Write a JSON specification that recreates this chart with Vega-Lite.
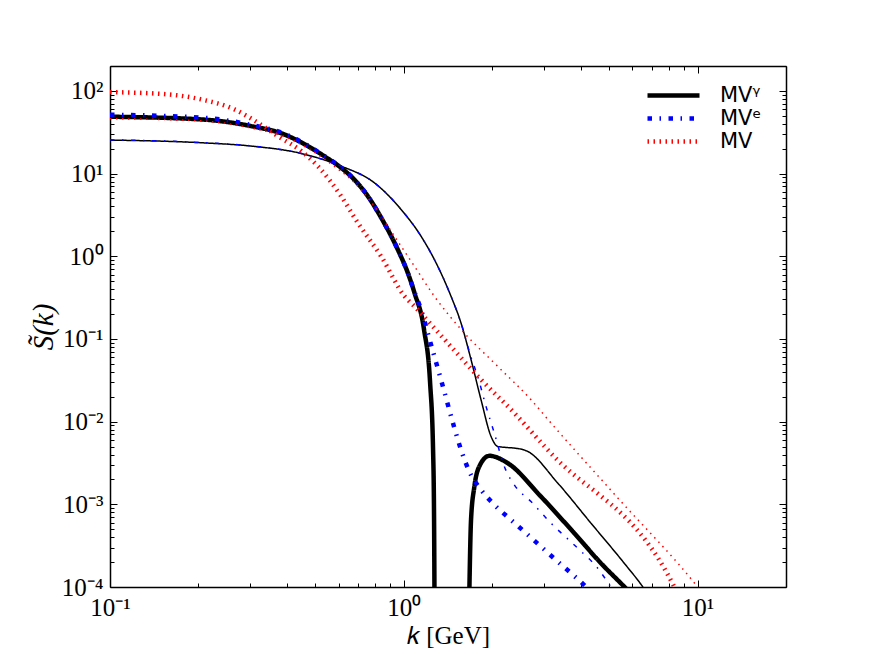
{
  "$schema": "https://vega.github.io/schema/vega-lite/v6.json",
  "width": 676,
  "height": 521,
  "autosize": {"type": "none"},
  "padding": {"left": 110, "top": 66, "right": 86, "bottom": 67},
  "background": "white",
  "config": {
    "view": {"stroke": null},
    "axis": {
      "grid": false, "domainColor": "black", "domainWidth": 1.5,
      "tickColor": "black", "tickWidth": 1, "labelColor": "black", "titleColor": "black",
      "labelFont": "Liberation Serif", "titleFont": "Liberation Serif",
      "labelFontSize": 25, "titleFontSize": 25, "titleFontWeight": "normal",
      "labelFlush": false, "labelOverlap": false
    }
  },
  "data": {"values": [
    {"s": "MVᵞ", "w": "thick", "c": "g1", "k": 0.1, "S": 48.7},
    {"s": "MVᵞ", "w": "thick", "c": "g1", "k": 0.2044, "S": 45.2},
    {"s": "MVᵞ", "w": "thick", "c": "g1", "k": 0.3024, "S": 37.5},
    {"s": "MVᵞ", "w": "thick", "c": "g1", "k": 0.3926, "S": 29.7},
    {"s": "MVᵞ", "w": "thick", "c": "g1", "k": 0.4716, "S": 21.5},
    {"s": "MVᵞ", "w": "thick", "c": "g1", "k": 0.544, "S": 15.7},
    {"s": "MVᵞ", "w": "thick", "c": "g1", "k": 0.612, "S": 11.75},
    {"s": "MVᵞ", "w": "thick", "c": "g1", "k": 0.678, "S": 8.48},
    {"s": "MVᵞ", "w": "thick", "c": "g1", "k": 0.7545, "S": 5.33},
    {"s": "MVᵞ", "w": "thick", "c": "g1", "k": 0.837, "S": 2.94},
    {"s": "MVᵞ", "w": "thick", "c": "g1", "k": 0.954, "S": 1.205},
    {"s": "MVᵞ", "w": "thick", "c": "g1", "k": 1.032, "S": 0.63},
    {"s": "MVᵞ", "w": "thick", "c": "g1", "k": 1.087, "S": 0.363},
    {"s": "MVᵞ", "w": "thick", "c": "g1", "k": 1.172, "S": 0.1297},
    {"s": "MVᵞ", "w": "thick", "c": "g1", "k": 1.229, "S": 0.0296},
    {"s": "MVᵞ", "w": "thick", "c": "g1", "k": 1.258, "S": 0.00457},
    {"s": "MVᵞ", "w": "thick", "c": "g1", "k": 1.268, "S": 0.000649},
    {"s": "MVᵞ", "w": "thick", "c": "g1", "k": 1.272, "S": 0.00008},
    {"s": "MVᵞ", "w": "thick", "c": "g2", "k": 1.671, "S": 0.00008},
    {"s": "MVᵞ", "w": "thick", "c": "g2", "k": 1.694, "S": 0.000649},
    {"s": "MVᵞ", "w": "thick", "c": "g2", "k": 1.739, "S": 0.00164},
    {"s": "MVᵞ", "w": "thick", "c": "g2", "k": 1.807, "S": 0.00287},
    {"s": "MVᵞ", "w": "thick", "c": "g2", "k": 1.955, "S": 0.00386},
    {"s": "MVᵞ", "w": "thick", "c": "g2", "k": 2.258, "S": 0.00315},
    {"s": "MVᵞ", "w": "thick", "c": "g2", "k": 2.931, "S": 0.00124},
    {"s": "MVᵞ", "w": "thick", "c": "g2", "k": 3.804, "S": 0.000448},
    {"s": "MVᵞ", "w": "thick", "c": "g2", "k": 4.69, "S": 0.000194},
    {"s": "MVᵞ", "w": "thick", "c": "g2", "k": 5.628, "S": 0.000101},
    {"s": "MVᵞ", "w": "thick", "c": "g2", "k": 6.0, "S": 0.00008},
    {"s": "MVᵞ", "w": "thin", "c": "gt", "k": 0.1, "S": 25.4},
    {"s": "MVᵞ", "w": "thin", "c": "gt", "k": 0.2044, "S": 23.6},
    {"s": "MVᵞ", "w": "thin", "c": "gt", "k": 0.3024, "S": 21.5},
    {"s": "MVᵞ", "w": "thin", "c": "gt", "k": 0.448, "S": 17.5},
    {"s": "MVᵞ", "w": "thin", "c": "gt", "k": 0.612, "S": 12.3},
    {"s": "MVᵞ", "w": "thin", "c": "gt", "k": 0.794, "S": 7.74},
    {"s": "MVᵞ", "w": "thin", "c": "gt", "k": 0.979, "S": 3.68},
    {"s": "MVᵞ", "w": "thin", "c": "gt", "k": 1.145, "S": 1.747},
    {"s": "MVᵞ", "w": "thin", "c": "gt", "k": 1.305, "S": 0.757},
    {"s": "MVᵞ", "w": "thin", "c": "gt", "k": 1.448, "S": 0.328},
    {"s": "MVᵞ", "w": "thin", "c": "gt", "k": 1.566, "S": 0.156},
    {"s": "MVᵞ", "w": "thin", "c": "gt", "k": 1.694, "S": 0.0562},
    {"s": "MVᵞ", "w": "thin", "c": "gt", "k": 1.832, "S": 0.0184},
    {"s": "MVᵞ", "w": "thin", "c": "gt", "k": 1.982, "S": 0.00662},
    {"s": "MVᵞ", "w": "thin", "c": "gt", "k": 2.088, "S": 0.00501},
    {"s": "MVᵞ", "w": "thin", "c": "gt", "k": 2.25, "S": 0.00486},
    {"s": "MVᵞ", "w": "thin", "c": "gt", "k": 2.378, "S": 0.00479},
    {"s": "MVᵞ", "w": "thin", "c": "gt", "k": 2.642, "S": 0.00436},
    {"s": "MVᵞ", "w": "thin", "c": "gt", "k": 3.341, "S": 0.00181},
    {"s": "MVᵞ", "w": "thin", "c": "gt", "k": 4.336, "S": 0.000592},
    {"s": "MVᵞ", "w": "thin", "c": "gt", "k": 5.628, "S": 0.000194},
    {"s": "MVᵞ", "w": "thin", "c": "gt", "k": 6.502, "S": 0.000101},
    {"s": "MVᵞ", "w": "thin", "c": "gt", "k": 6.8, "S": 0.00008},
    {"s": "MVᵉ", "w": "thick", "c": "e1", "k": 0.1, "S": 51.5},
    {"s": "MVᵉ", "w": "thick", "c": "e1", "k": 0.2044, "S": 47.5},
    {"s": "MVᵉ", "w": "thick", "c": "e1", "k": 0.3024, "S": 38.8},
    {"s": "MVᵉ", "w": "thick", "c": "e1", "k": 0.3926, "S": 30.3},
    {"s": "MVᵉ", "w": "thick", "c": "e1", "k": 0.4716, "S": 21.8},
    {"s": "MVᵉ", "w": "thick", "c": "e1", "k": 0.544, "S": 15.8},
    {"s": "MVᵉ", "w": "thick", "c": "e1", "k": 0.612, "S": 11.8},
    {"s": "MVᵉ", "w": "thick", "c": "e1", "k": 0.678, "S": 8.5},
    {"s": "MVᵉ", "w": "thick", "c": "e1", "k": 0.7545, "S": 5.35},
    {"s": "MVᵉ", "w": "thick", "c": "e1", "k": 0.837, "S": 2.94},
    {"s": "MVᵉ", "w": "thick", "c": "e1", "k": 0.954, "S": 1.205},
    {"s": "MVᵉ", "w": "thick", "c": "e1", "k": 1.032, "S": 0.63},
    {"s": "MVᵉ", "w": "thick", "c": "e1", "k": 1.087, "S": 0.37},
    {"s": "MVᵉ", "w": "thick", "c": "e1", "k": 1.145, "S": 0.226},
    {"s": "MVᵉ", "w": "thick", "c": "e1", "k": 1.238, "S": 0.0853},
    {"s": "MVᵉ", "w": "thick", "c": "e1", "k": 1.339, "S": 0.0321},
    {"s": "MVᵉ", "w": "thick", "c": "e1", "k": 1.483, "S": 0.00867},
    {"s": "MVᵉ", "w": "thick", "c": "e1", "k": 1.566, "S": 0.00457},
    {"s": "MVᵉ", "w": "thick", "c": "e1", "k": 1.671, "S": 0.0025},
    {"s": "MVᵉ", "w": "thick", "c": "e1", "k": 1.832, "S": 0.0015},
    {"s": "MVᵉ", "w": "thick", "c": "e1", "k": 2.033, "S": 0.000987},
    {"s": "MVᵉ", "w": "thick", "c": "e1", "k": 2.317, "S": 0.000649},
    {"s": "MVᵉ", "w": "thick", "c": "e1", "k": 2.606, "S": 0.000448},
    {"s": "MVᵉ", "w": "thick", "c": "e1", "k": 2.971, "S": 0.000295},
    {"s": "MVᵉ", "w": "thick", "c": "e1", "k": 3.341, "S": 0.000203},
    {"s": "MVᵉ", "w": "thick", "c": "e1", "k": 3.804, "S": 0.000136},
    {"s": "MVᵉ", "w": "thick", "c": "e1", "k": 4.17, "S": 0.0001},
    {"s": "MVᵉ", "w": "thick", "c": "e1", "k": 4.4, "S": 0.00008},
    {"s": "MVᵉ", "w": "thin", "c": "et", "k": 0.1, "S": 25.6},
    {"s": "MVᵉ", "w": "thin", "c": "et", "k": 0.2044, "S": 23.7},
    {"s": "MVᵉ", "w": "thin", "c": "et", "k": 0.3024, "S": 21.6},
    {"s": "MVᵉ", "w": "thin", "c": "et", "k": 0.448, "S": 17.5},
    {"s": "MVᵉ", "w": "thin", "c": "et", "k": 0.612, "S": 12.3},
    {"s": "MVᵉ", "w": "thin", "c": "et", "k": 0.794, "S": 7.74},
    {"s": "MVᵉ", "w": "thin", "c": "et", "k": 0.979, "S": 3.68},
    {"s": "MVᵉ", "w": "thin", "c": "et", "k": 1.145, "S": 1.747},
    {"s": "MVᵉ", "w": "thin", "c": "et", "k": 1.305, "S": 0.757},
    {"s": "MVᵉ", "w": "thin", "c": "et", "k": 1.448, "S": 0.328},
    {"s": "MVᵉ", "w": "thin", "c": "et", "k": 1.566, "S": 0.156},
    {"s": "MVᵉ", "w": "thin", "c": "et", "k": 1.694, "S": 0.06},
    {"s": "MVᵉ", "w": "thin", "c": "et", "k": 1.785, "S": 0.0352},
    {"s": "MVᵉ", "w": "thin", "c": "et", "k": 1.905, "S": 0.0153},
    {"s": "MVᵉ", "w": "thin", "c": "et", "k": 2.033, "S": 0.00728},
    {"s": "MVᵉ", "w": "thin", "c": "et", "k": 2.199, "S": 0.00287},
    {"s": "MVᵉ", "w": "thin", "c": "et", "k": 2.378, "S": 0.00172},
    {"s": "MVᵉ", "w": "thin", "c": "et", "k": 2.71, "S": 0.00108},
    {"s": "MVᵉ", "w": "thin", "c": "et", "k": 3.17, "S": 0.000592},
    {"s": "MVᵉ", "w": "thin", "c": "et", "k": 3.907, "S": 0.000295},
    {"s": "MVᵉ", "w": "thin", "c": "et", "k": 4.571, "S": 0.000169},
    {"s": "MVᵉ", "w": "thin", "c": "et", "k": 5.072, "S": 0.0001},
    {"s": "MVᵉ", "w": "thin", "c": "et", "k": 5.3, "S": 0.00008},
    {"s": "MV", "w": "thick", "c": "m1", "k": 0.1, "S": 96.7},
    {"s": "MV", "w": "thick", "c": "m1", "k": 0.1575, "S": 90.7},
    {"s": "MV", "w": "thick", "c": "m1", "k": 0.2044, "S": 78.9},
    {"s": "MV", "w": "thick", "c": "m1", "k": 0.2653, "S": 59.7},
    {"s": "MV", "w": "thick", "c": "m1", "k": 0.3188, "S": 41.2},
    {"s": "MV", "w": "thick", "c": "m1", "k": 0.3726, "S": 28.4},
    {"s": "MV", "w": "thick", "c": "m1", "k": 0.448, "S": 18.7},
    {"s": "MV", "w": "thick", "c": "m1", "k": 0.5099, "S": 12.3},
    {"s": "MV", "w": "thick", "c": "m1", "k": 0.612, "S": 5.33},
    {"s": "MV", "w": "thick", "c": "m1", "k": 0.6975, "S": 2.54},
    {"s": "MV", "w": "thick", "c": "m1", "k": 0.837, "S": 1.0},
    {"s": "MV", "w": "thick", "c": "m1", "k": 1.005, "S": 0.33},
    {"s": "MV", "w": "thick", "c": "m1", "k": 1.087, "S": 0.248},
    {"s": "MV", "w": "thick", "c": "m1", "k": 1.411, "S": 0.0894},
    {"s": "MV", "w": "thick", "c": "m1", "k": 1.832, "S": 0.0322},
    {"s": "MV", "w": "thick", "c": "m1", "k": 2.378, "S": 0.0127},
    {"s": "MV", "w": "thick", "c": "m1", "k": 3.1, "S": 0.0045},
    {"s": "MV", "w": "thick", "c": "m1", "k": 8.325, "S": 0.000101},
    {"s": "MV", "w": "thick", "c": "m1", "k": 8.6, "S": 0.00008},
    {"s": "MV", "w": "thin", "c": "mt", "k": 0.1, "S": 46.1},
    {"s": "MV", "w": "thin", "c": "mt", "k": 0.2044, "S": 43.4},
    {"s": "MV", "w": "thin", "c": "mt", "k": 0.3024, "S": 35.6},
    {"s": "MV", "w": "thin", "c": "mt", "k": 0.3926, "S": 28.0},
    {"s": "MV", "w": "thin", "c": "mt", "k": 0.4716, "S": 20.3},
    {"s": "MV", "w": "thin", "c": "mt", "k": 0.5806, "S": 12.2},
    {"s": "MV", "w": "thin", "c": "mt", "k": 0.662, "S": 8.48},
    {"s": "MV", "w": "thin", "c": "mt", "k": 0.794, "S": 4.03},
    {"s": "MV", "w": "thin", "c": "mt", "k": 0.929, "S": 1.747},
    {"s": "MV", "w": "thin", "c": "mt", "k": 1.087, "S": 0.757},
    {"s": "MV", "w": "thin", "c": "mt", "k": 1.271, "S": 0.328},
    {"s": "MV", "w": "thin", "c": "mt", "k": 1.607, "S": 0.118},
    {"s": "MV", "w": "thin", "c": "mt", "k": 2.088, "S": 0.0466},
    {"s": "MV", "w": "thin", "c": "mt", "k": 2.71, "S": 0.0184},
    {"s": "MV", "w": "thin", "c": "mt", "k": 3.17, "S": 0.00962},
    {"s": "MV", "w": "thin", "c": "mt", "k": 5.345, "S": 0.0012},
    {"s": "MV", "w": "thin", "c": "mt", "k": 10, "S": 0.0001},
    {"s": "MV", "w": "thin", "c": "mt", "k": 10.5, "S": 0.00008}
  ]},
  "layer": [
    {
      "mark": {"type": "line", "clip": true, "interpolate": "monotone"},
      "encoding": {
        "x": {
          "field": "k", "type": "quantitative",
          "scale": {"type": "log", "domain": [0.1, 20], "nice": false},
          "axis": {
            "orient": "bottom",
            "values": [0.1, 0.2, 0.3, 0.4, 0.5, 0.6, 0.7, 0.8, 0.9, 1, 2, 3, 4, 5, 6, 7, 8, 9, 10, 20],
            "labelExpr": "datum.value == 0.1 ? '10⁻¹' : datum.value == 1 ? '10⁰' : datum.value == 10 ? '10¹' : ''",
            "tickSize": {"condition": {"test": "datum.value == 0.1 || datum.value == 1 || datum.value == 10", "value": -7}, "value": -4},
            "labelPadding": 15,
            "title": "𝑘 [GeV]",
            "titlePadding": 0
          }
        },
        "y": {
          "field": "S", "type": "quantitative",
          "scale": {"type": "log", "domain": [0.0001, 200], "nice": false},
          "axis": {
            "orient": "left",
            "values": [0.0001, 0.0002, 0.0003, 0.0004, 0.0005, 0.0006, 0.0007, 0.0008, 0.0009, 0.001, 0.002, 0.003, 0.004, 0.005, 0.006, 0.007, 0.008, 0.009, 0.01, 0.02, 0.03, 0.04, 0.05, 0.06, 0.07, 0.08, 0.09, 0.1, 0.2, 0.3, 0.4, 0.5, 0.6, 0.7, 0.8, 0.9, 1, 2, 3, 4, 5, 6, 7, 8, 9, 10, 20, 30, 40, 50, 60, 70, 80, 90, 100, 200],
            "labelExpr": "datum.value == 100 ? '10²' : datum.value == 10 ? '10¹' : datum.value == 1 ? '10⁰' : datum.value == 0.1 ? '10⁻¹' : datum.value == 0.01 ? '10⁻²' : datum.value == 0.001 ? '10⁻³' : datum.value == 0.0001 ? '10⁻⁴' : ''",
            "tickSize": {"condition": {"test": "datum.value == 0.0001 || datum.value == 0.001 || datum.value == 0.01 || datum.value == 0.1 || datum.value == 1 || datum.value == 10 || datum.value == 100", "value": -7}, "value": -4},
            "labelPadding": 14,
            "title": "S̃(k)",
            "titleFontStyle": "italic",
            "titleFontSize": 29,
            "titlePadding": 3
          }
        },
        "color": {
          "field": "s", "type": "nominal",
          "scale": {"domain": ["MVᵞ", "MVᵉ", "MV"], "range": ["#000000", "#0000ff", "#ff0000"]},
          "legend": {
            "orient": "none", "legendX": 551, "legendY": 17, "title": null,
            "symbolType": "M-2.6,0H2.6", "symbolSize": 400, "symbolStrokeWidth": 4.5,
            "labelFont": "DejaVu Sans", "labelFontSize": 21, "labelColor": "black",
            "labelOffset": 34, "rowPadding": -1, "padding": 0
          }
        },
        "strokeDash": {
          "field": "s", "type": "nominal",
          "scale": {"domain": ["MVᵞ", "MVᵉ", "MV"], "range": [[1, 0], [4.5, 7.5, 1.5, 7.5], [1.5, 4.5]]}
        },
        "strokeWidth": {
          "field": "w", "type": "nominal",
          "scale": {"domain": ["thick", "thin"], "range": [4.5, 1.5]},
          "legend": null
        },
        "detail": {"field": "c"}
      }
    },
    {
      "mark": {"type": "line", "opacity": 0},
      "encoding": {
        "x": {
          "field": "k", "type": "quantitative",
          "scale": {"type": "log", "domain": [0.1, 20], "nice": false},
          "axis": {
            "orient": "top", "labels": false, "title": null,
            "values": [0.1, 0.2, 0.3, 0.4, 0.5, 0.6, 0.7, 0.8, 0.9, 1, 2, 3, 4, 5, 6, 7, 8, 9, 10, 20],
            "tickSize": {"condition": {"test": "datum.value == 0.1 || datum.value == 1 || datum.value == 10", "value": -7}, "value": -4}
          }
        },
        "y": {
          "field": "S", "type": "quantitative",
          "scale": {"type": "log", "domain": [0.0001, 200], "nice": false},
          "axis": {
            "orient": "right", "labels": false, "title": null,
            "values": [0.0001, 0.0002, 0.0003, 0.0004, 0.0005, 0.0006, 0.0007, 0.0008, 0.0009, 0.001, 0.002, 0.003, 0.004, 0.005, 0.006, 0.007, 0.008, 0.009, 0.01, 0.02, 0.03, 0.04, 0.05, 0.06, 0.07, 0.08, 0.09, 0.1, 0.2, 0.3, 0.4, 0.5, 0.6, 0.7, 0.8, 0.9, 1, 2, 3, 4, 5, 6, 7, 8, 9, 10, 20, 30, 40, 50, 60, 70, 80, 90, 100, 200],
            "tickSize": {"condition": {"test": "datum.value == 0.0001 || datum.value == 0.001 || datum.value == 0.01 || datum.value == 0.1 || datum.value == 1 || datum.value == 10 || datum.value == 100", "value": -7}, "value": -4}
          }
        },
        "detail": {"field": "c"}
      }
    }
  ],
  "resolve": {"axis": {"x": "independent", "y": "independent"}}
}
